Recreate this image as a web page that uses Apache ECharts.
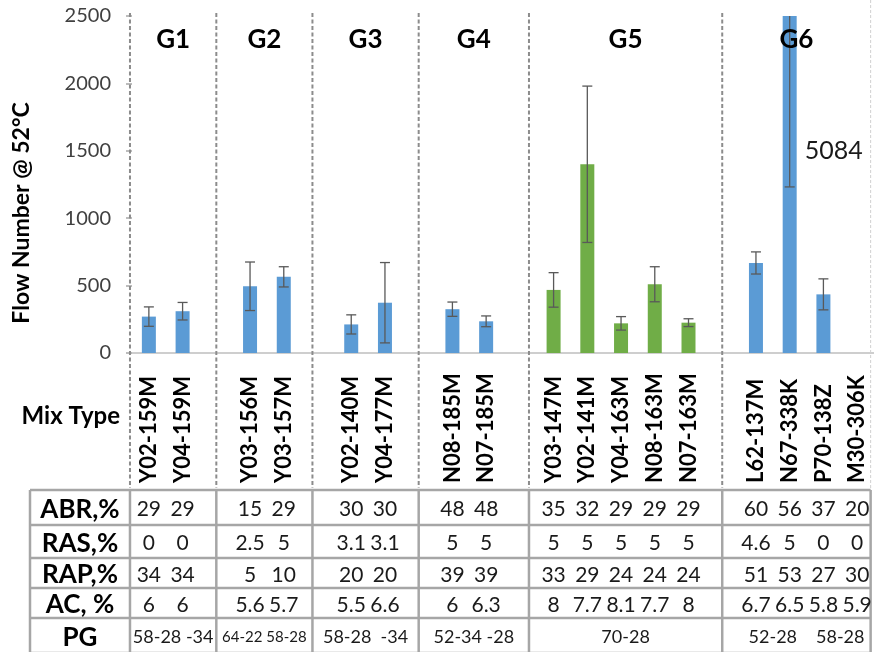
<!DOCTYPE html>
<html>
<head>
<meta charset="utf-8">
<script src="https://cdn.jsdelivr.net/npm/echarts@6/dist/echarts.min.js"></script>
<style>
  html, body { margin: 0; padding: 0; background: #ffffff; }
  #chart { width: 874px; height: 652px; }
</style>
</head>
<body>
<div id="chart"></div>
<script>
// ---- Data -----------------------------------------------------------------
const groupNames = ['G1', 'G2', 'G3', 'G4', 'G5', 'G6'];
const groupSizes = [2, 2, 2, 2, 5, 4];
const mixTypes = [
  'Y02-159M', 'Y04-159M',
  'Y03-156M', 'Y03-157M',
  'Y02-140M', 'Y04-177M',
  'N08-185M', 'N07-185M',
  'Y03-147M', 'Y02-141M', 'Y04-163M', 'N08-163M', 'N07-163M',
  'L62-137M', 'N67-338K', 'P70-138Z', 'M30-306K'
];
// Flow number @ 52°C (mean) and its ± error
const flowNumber = [270, 310, 495, 565, 212, 373, 325, 235, 468, 1400, 220, 510, 225, 668, 5084, 435, null];
const flowError  = [72, 65, 180, 75, 71, 298, 53, 40, 128, 580, 50, 130, 29, 82, 3852, 115, null];
// Mix design properties
const rowNames = ['ABR,%', 'RAS,%', 'RAP,%', 'AC, %', 'PG'];
const abr = [29, 29, 15, 29, 30, 30, 48, 48, 35, 32, 29, 29, 29, 60, 56, 37, 20];
const ras = [0, 0, 2.5, 5, 3.1, 3.1, 5, 5, 5, 5, 5, 5, 5, 4.6, 5, 0, 0];
const rap = [34, 34, 5, 10, 20, 20, 39, 39, 33, 29, 24, 24, 24, 51, 53, 27, 30];
const ac  = [6, 6, 5.6, 5.7, 5.5, 6.6, 6, 6.3, 8, 7.7, 8.1, 7.7, 8, 6.7, 6.5, 5.8, 5.9];
// Binder grade, written once per group (G6 holds two grades)
const pgText = [['58-28 -34'], ['64-22 58-28'], ['58-28  -34'], ['52-34 -28'], ['70-28'], ['52-28', '58-28']];
const yTicks = [0, 500, 1000, 1500, 2000, 2500];
const yTitle = 'Flow Number @ 52°C';

// ---- Layout & style --------------------------------------------------------
const FONT = 'Lato, "Open Sans", sans-serif';
const BLUE = '#5B9BD5', GREEN = '#70AD47';
const groupColors = [BLUE, BLUE, BLUE, BLUE, GREEN, BLUE];
const dividerSlots = [-0.56, 2, 4.85, 8, 11.27, 17, 21.4];   // in category slots
const tableRows = [490, 525, 558, 588, 618, 653];
const tableLeft = 30;
const GRID = { left: 132, top: 16, width: 745, height: 337 };

// Category axis: mixes, with one empty slot between groups
const categories = [];
const mixSlot = [];
const mixGroup = [];
let k = 0;
groupSizes.forEach((n, g) => {
  for (let i = 0; i < n; i++) {
    mixSlot.push(categories.length);
    mixGroup.push(g);
    categories.push(mixTypes[k++]);
  }
  if (g < groupSizes.length - 1) categories.push('#gap' + g);
});

const barData = categories.map(() => '-');
const errData = [];
mixTypes.forEach((m, i) => {
  const v = flowNumber[i];
  if (v == null) return;
  barData[mixSlot[i]] = { value: v, itemStyle: { color: groupColors[mixGroup[i]] } };
  errData.push([mixSlot[i], v - flowError[i], v + flowError[i]]);
});

const n67 = mixTypes.indexOf('N67-338K');

const chart = echarts.init(document.getElementById('chart'), null, { renderer: 'canvas' });

const option = {
  animation: false,
  backgroundColor: '#ffffff',
  textStyle: { fontFamily: FONT },
  grid: GRID,
  xAxis: {
    type: 'category',
    data: categories,
    axisLine: { show: true, lineStyle: { color: '#BFBFBF', width: 1.5 } },
    axisTick: { show: false },
    axisLabel: {
      interval: 0,
      rotate: 90,
      align: 'left',
      verticalAlign: 'middle',
      margin: 130,
      fontFamily: FONT,
      fontWeight: 'bold',
      fontSize: 22,
      color: '#000000',
      formatter: v => (v.charAt(0) === '#' ? '' : v)
    }
  },
  yAxis: {
    type: 'value',
    min: yTicks[0],
    max: yTicks[yTicks.length - 1],
    interval: yTicks[1] - yTicks[0],
    axisLine: { show: false },
    axisTick: { show: true, length: 6, lineStyle: { color: '#A6A6A6', width: 1.5 } },
    splitLine: { show: false },
    axisLabel: {
      margin: 21, fontFamily: FONT, fontSize: 20, color: '#404040',
      formatter: v => String(v)
    }
  },
  series: [
    {
      type: 'bar',
      data: barData,
      barWidth: 14,
      clip: true,
      markPoint: {
        symbol: 'circle',
        symbolSize: 0,
        data: [{ coord: [mixSlot[n67], 1500], value: flowNumber[n67] }],
        label: {
          show: true,
          position: 'inside',
          offset: [44, 0],
          formatter: '{c}',
          fontFamily: FONT,
          fontSize: 25,
          color: '#1a1a1a'
        }
      }
    },
    {
      type: 'custom',
      clip: true,
      data: errData,
      renderItem: function (params, api) {
        const x = api.value(0);
        const lo = api.coord([x, api.value(1)]);
        const hi = api.coord([x, api.value(2)]);
        const c = 5;
        const st = { stroke: '#595959', lineWidth: 1.3 };
        return {
          type: 'group',
          children: [
            { type: 'line', shape: { x1: lo[0], y1: lo[1], x2: hi[0], y2: hi[1] }, style: st },
            { type: 'line', shape: { x1: lo[0] - c, y1: lo[1], x2: lo[0] + c, y2: lo[1] }, style: st },
            { type: 'line', shape: { x1: hi[0] - c, y1: hi[1], x2: hi[0] + c, y2: hi[1] }, style: st }
          ]
        };
      },
      z: 3
    }
  ]
};

chart.setOption(option);

// ---- Dividers, group titles, axis title and the property table ------------
const px0 = chart.convertToPixel({ xAxisIndex: 0 }, 0);
const px1 = chart.convertToPixel({ xAxisIndex: 0 }, 1);
const slotW = px1 - px0;
const slotX = s => px0 + s * slotW;
const divX = dividerSlots.map(slotX);

function txt(text, x, y, font, align, color) {
  return {
    type: 'text',
    silent: true,
    z: 100,
    style: {
      text: text, x: x, y: y, font: font,
      textAlign: align || 'center', textVerticalAlign: 'middle',
      align: align || 'center', verticalAlign: 'middle',
      fill: color || '#1a1a1a'
    }
  };
}
function line(x1, y1, x2, y2, stroke, width, dash) {
  const el = { type: 'line', silent: true, z: 50, shape: { x1, y1, x2, y2 }, style: { stroke, lineWidth: width } };
  if (dash) el.style.lineDash = dash;
  return el;
}

const g = [];
// Group dividers (dashed)
divX.forEach((x, i) => {
  if (i === divX.length - 1) {
    g.push(line(x, 0, x, tableRows[0], '#D0D0D0', 1, [3, 2]));
  } else {
    g.push(line(x, 13, x, tableRows[0] - 2, '#8C8C8C', 2, [4, 2.5]));
  }
});
// Group titles
groupNames.forEach((name, i) => {
  g.push(txt(name, (divX[i] + divX[i + 1]) / 2, 40, 'bold 26px ' + FONT, 'center', '#000000'));
});
// Value-axis title (rotated)
g.push({
  type: 'text', silent: true, z: 100,
  x: 22, y: 213, rotation: Math.PI / 2,
  style: {
    text: yTitle, x: 0, y: 0, font: 'bold 23px ' + FONT,
    textAlign: 'center', textVerticalAlign: 'middle', align: 'center', verticalAlign: 'middle',
    fill: '#000000'
  }
});
// Mix Type heading
g.push(txt('Mix Type', 120, 416, 'bold 24px ' + FONT, 'right', '#000000'));

// Table borders
const tl = '#A6A6A6';
tableRows.forEach(y => g.push(line(tableLeft, y, divX[divX.length - 1], y, tl, 2.5)));
g.push(line(tableLeft, tableRows[0], tableLeft, tableRows[tableRows.length - 1], tl, 2.5));
divX.forEach(x => g.push(line(x, tableRows[0], x, tableRows[tableRows.length - 1], tl, 2.5)));

// Row headings
const rowMid = i => (tableRows[i] + tableRows[i + 1]) / 2 + 2;
rowNames.forEach((r, i) => g.push(txt(r, (tableLeft + divX[0]) / 2, rowMid(i), 'bold 26px ' + FONT, 'center', '#000000')));

// Per-mix values
[abr, ras, rap, ac].forEach((arr, r) => {
  arr.forEach((v, i) => {
    g.push(txt(String(v), slotX(mixSlot[i]), rowMid(r), '21px ' + FONT));
  });
});

// Binder grade per group
let start = 0;
pgText.forEach((labels, gi) => {
  const n = groupSizes[gi];
  if (labels.length === 1) {
    const size = labels[0].length > 10 ? 15 : 18;
    g.push(txt(labels[0], (divX[gi] + divX[gi + 1]) / 2, rowMid(4), size + 'px ' + FONT));
  } else {
    const per = n / labels.length;
    labels.forEach((lab, j) => {
      const a = mixSlot[start + j * per], b = mixSlot[start + (j + 1) * per - 1];
      g.push(txt(lab, (slotX(a) + slotX(b)) / 2, rowMid(4), '18px ' + FONT));
    });
  }
  start += n;
});

chart.setOption({ graphic: { elements: g } });
</script>
</body>
</html>
